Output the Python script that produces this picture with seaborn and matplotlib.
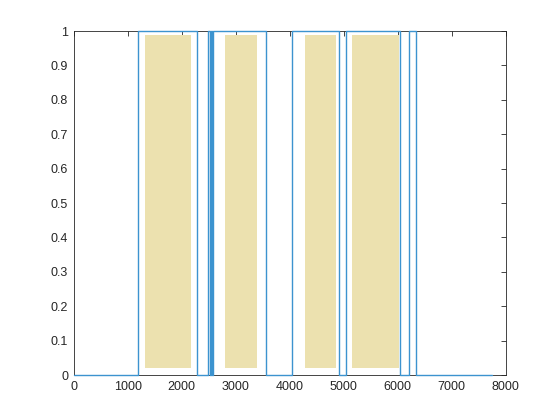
import numpy as np
import pandas as pd
import matplotlib
matplotlib.use("Agg")
import matplotlib.pyplot as plt
import seaborn as sns

# step signal (0/1)
sig_x = [0, 1196, 2289, 2490, 2515, 2540, 2560, 2585, 3556, 4037, 4913, 5037, 6043, 6215, 6339, 7741]
sig_y = [0, 1, 0, 1, 0, 1, 0, 1, 0, 1, 0, 1, 0, 1, 0, 0]

# khaki filled blocks (start, end), low / high level
fill_start = [1321, 2802, 4283, 5159]
fill_end = [2173, 3389, 4857, 6030]
fill_low = 0.02
fill_high = 0.99

x_ticks = [0, 1000, 2000, 3000, 4000, 5000, 6000, 7000, 8000]
y_ticks = [0, 0.1, 0.2, 0.3, 0.4, 0.5, 0.6, 0.7, 0.8, 0.9, 1]

sns.set_style("white")
plt.rcParams["font.family"] = ["Liberation Sans", "DejaVu Sans"]

df = pd.DataFrame({"t": sig_x, "v": sig_y})

fig = plt.figure(figsize=(5.6, 4.2), dpi=100)
ax = fig.add_axes([0.1316, 0.107, 0.7714, 0.819])

for s, e in zip(fill_start, fill_end):
    ax.fill_between([s, e], [fill_low, fill_low], [fill_high, fill_high],
                    color="#ECE1AF", linewidth=0, zorder=1)

sns.lineplot(data=df, x="t", y="v", ax=ax, estimator=None, sort=False,
             drawstyle="steps-post", color="#3C93CF", linewidth=1.0,
             zorder=3, clip_on=False)

ax.set_xlim(0, 8000)
ax.set_ylim(0, 1)
ax.set_xticks(x_ticks)
ax.set_yticks(y_ticks)
ax.set_yticklabels(["0", "0.1", "0.2", "0.3", "0.4", "0.5", "0.6", "0.7", "0.8", "0.9", "1"])
ax.set_xlabel("")
ax.set_ylabel("")

for sp in ax.spines.values():
    sp.set_visible(True)
    sp.set_color("#262626")
    sp.set_linewidth(0.6)

ax.tick_params(direction="in", length=3.4, width=0.6, colors="#262626",
               labelsize=9, top=True, right=True, pad=4)

fig.savefig("out.png", dpi=100)
